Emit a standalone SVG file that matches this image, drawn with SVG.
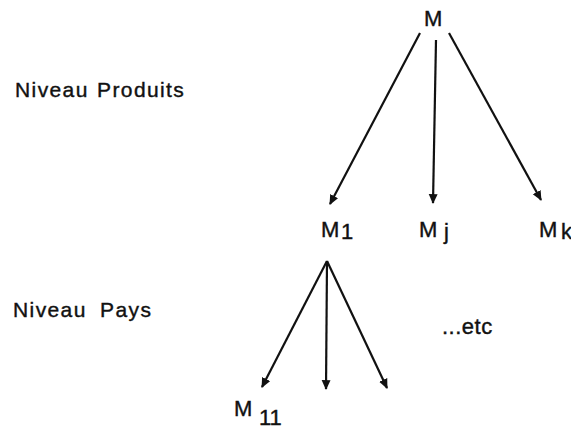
<svg xmlns="http://www.w3.org/2000/svg" width="571" height="430" viewBox="0 0 571 430">
<style>
text{font-family:"Liberation Sans",Arial,sans-serif;fill:#111;stroke:#111;stroke-width:0.4}
.lbl{font-size:21px;letter-spacing:1.4px}
.m{font-size:22px}
.c{stroke:#111;stroke-width:2.2;fill:none;marker-end:url(#ah)}
</style>
<defs>
<marker id="ah" viewBox="0 0 10 10" refX="9" refY="5" markerWidth="4.5" markerHeight="4.5" orient="auto" markerUnits="strokeWidth">
<path d="M0,0.5 L10,5 L0,9.5 z" fill="#111"/>
</marker>
</defs>
<rect width="571" height="430" fill="#fff"/>
<g id="level-labels">
<text class="lbl" x="15" y="97">Niveau<tspan x="97">Produits</tspan></text>
<text class="lbl" x="13" y="317">Niveau<tspan x="100">Pays</tspan></text>
</g>
<g id="node-M"><text class="m" x="424" y="26">M</text></g>
<g id="node-M1"><text class="m" x="321" y="237">M</text><text class="m" x="341" y="239">1</text></g>
<g id="node-Mj"><text class="m" x="419" y="237">M</text><text class="m" x="444" y="239">j</text></g>
<g id="node-Mk"><text class="m" x="539" y="237">M</text><text class="m" x="561" y="239">k</text></g>
<g id="node-M11"><text class="m" x="234" y="416">M</text><text class="m" x="259" y="425">11</text></g>
<g id="node-etc"><text x="442" y="334" style="font-size:22px;letter-spacing:0.5px">...etc</text></g>
<g id="connectors">
<line class="c" x1="420" y1="33" x2="330" y2="204"/>
<line class="c" x1="436" y1="40" x2="433" y2="203"/>
<line class="c" x1="449" y1="33" x2="541" y2="200"/>
<line class="c" x1="327" y1="261" x2="262" y2="387"/>
<line class="c" x1="327" y1="261" x2="326" y2="389"/>
<line class="c" x1="327" y1="261" x2="387" y2="388"/>
</g>
</svg>
